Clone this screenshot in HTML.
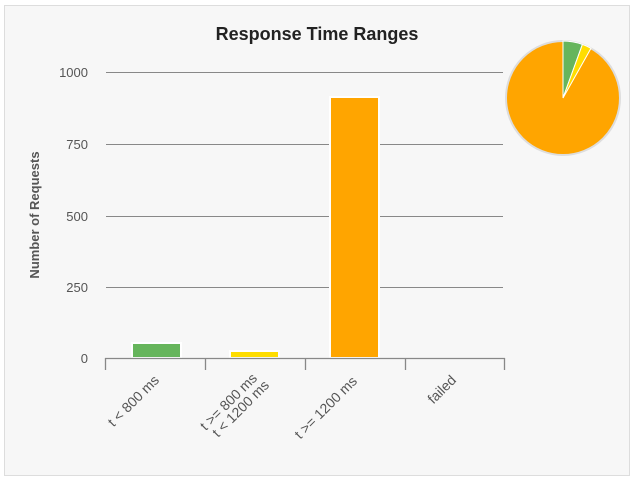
<!DOCTYPE html>
<html><head><style>
body{margin:0;background:#fff;}
svg{display:block;font-family:"Liberation Sans",sans-serif;}
</style></head><body>
<svg width="634" height="482" viewBox="0 0 634 482">
<rect x="4.5" y="5.5" width="625" height="470" fill="#f7f7f7" stroke="#ddd"/>
<text x="317" y="40" text-anchor="middle" font-size="18" font-weight="bold" fill="#222">Response Time Ranges</text>
<g stroke="#888" stroke-width="1">
<line x1="106" y1="72.5" x2="503" y2="72.5"/>
<line x1="106" y1="144.5" x2="503" y2="144.5"/>
<line x1="106" y1="216.5" x2="503" y2="216.5"/>
<line x1="106" y1="287.5" x2="503" y2="287.5"/>
</g>
<g font-size="13" fill="#555" text-anchor="end">
<text x="88" y="77">1000</text><text x="88" y="149">750</text><text x="88" y="221">500</text><text x="88" y="292">250</text><text x="88" y="363">0</text>
</g>
<text transform="translate(39,215) rotate(-90)" text-anchor="middle" font-size="13" font-weight="bold" fill="#555">Number of Requests</text>
<g stroke="#fff" stroke-width="2">
<rect x="132" y="343" width="49" height="15" fill="#66b55c" />
<rect x="230" y="351" width="49" height="7" fill="#ffdd00"/>
<rect x="330" y="97" width="49" height="261" fill="#ffa500"/>
</g>
<g stroke="#888" stroke-width="1.3">
<line x1="105" y1="358.5" x2="505" y2="358.5"/>
<line x1="105.5" y1="358" x2="105.5" y2="370"/>
<line x1="205.5" y1="358" x2="205.5" y2="370"/>
<line x1="305.5" y1="358" x2="305.5" y2="370"/>
<line x1="405.5" y1="358" x2="405.5" y2="370"/>
<line x1="504.5" y1="358" x2="504.5" y2="370"/>
</g>
<g font-size="14" fill="#555" text-anchor="end">
<text transform="translate(160,381) rotate(-45)">t &lt; 800 ms</text>
<text transform="translate(258,379) rotate(-45)">t &gt;= 800 ms</text>
<text transform="translate(270,386) rotate(-45)">t &lt; 1200 ms</text>
<text transform="translate(358,382) rotate(-45)">t &gt;= 1200 ms</text>
<text transform="translate(457,381) rotate(-45)">failed</text>
</g>
<g stroke="#fff" stroke-width="1">
<circle cx="563" cy="98" r="57" fill="#ffa500" stroke="#ddd" stroke-width="2"/>
<path d="M563,98 L563,41 A57,57 0 0 1 582.4,44.4 Z" fill="#66b55c"/>
<path d="M563,98 L582.4,44.4 A57,57 0 0 1 591,48.3 Z" fill="#ffdd00"/>
</g>
</svg>
</body></html>
